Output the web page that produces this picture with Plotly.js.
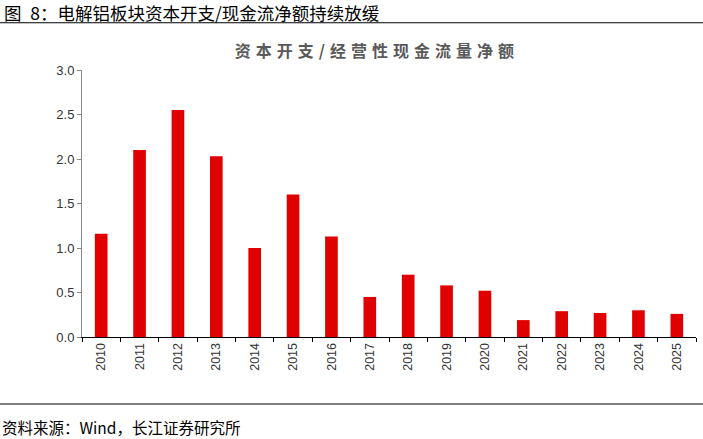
<!DOCTYPE html>
<html>
<head>
<meta charset="utf-8">
<script src="https://cdn.plot.ly/plotly-3.0.1.min.js"></script>
<style>
  body { margin: 0; background: #fff; }
  #plot { width: 703px; height: 439px; }
  .gtitle { letter-spacing: 5px; }
</style>
</head>
<body>
<div id="plot"></div>
<script>
// 资本开支/经营性现金流量净额
let years = ['2010', '2011', '2012', '2013', '2014', '2015', '2016', '2017',
             '2018', '2019', '2020', '2021', '2022', '2023', '2024', '2025'];
let ratio = [1.16, 2.10, 2.55, 2.03, 1.00, 1.60, 1.13, 0.45,
             0.70, 0.58, 0.52, 0.19, 0.29, 0.27, 0.30, 0.26];

let figTitle = '图\u20028：电解铝板块资本开支/现金流净额持续放缓';
let chartTitle = '资本开支/经营性现金流量净额';
let source = '资料来源：Wind，长江证券研究所';

let cjk = '"Noto Sans CJK SC", "Noto Sans", sans-serif';

Plotly.newPlot('plot', [{
    x: years,
    y: ratio,
    type: 'bar',
    marker: {color: '#e10000'},
    hoverinfo: 'x+y'
}], {
    width: 703,
    height: 439,
    margin: {l: 82, r: 7, t: 70, b: 102},
    paper_bgcolor: '#fff',
    plot_bgcolor: '#fff',
    bargap: 0.67,
    showlegend: false,
    title: {
        text: '<b>' + chartTitle + '</b>',
        font: {family: cjk, size: 16, color: '#595959'},
        x: 0.536, xanchor: 'center',
        y: 0.882, yanchor: 'middle'
    },
    xaxis: {
        type: 'category',
        tickangle: -90,
        tickson: 'boundaries',
        ticks: 'outside',
        ticklen: 4,
        tickcolor: '#000',
        showline: true,
        linecolor: '#000',
        linewidth: 1,
        showgrid: false,
        tickfont: {family: 'Arial, "Liberation Sans", sans-serif', size: 12.5, color: '#333'}
    },
    yaxis: {
        range: [0, 3],
        dtick: 0.5,
        tickformat: '.1f',
        ticks: 'outside',
        ticklen: 4,
        tickcolor: '#888',
        showline: true,
        linecolor: '#888',
        linewidth: 1,
        showgrid: false,
        zeroline: false,
        tickfont: {family: 'Arial, "Liberation Sans", sans-serif', size: 13, color: '#333'}
    },
    shapes: [
        {type: 'line', xref: 'paper', yref: 'paper', x0: -0.14, x1: 1.02, y0: 1.177, y1: 1.177,
         line: {color: '#000', width: 1.2}},
        {type: 'line', xref: 'paper', yref: 'paper', x0: -0.14, x1: 1.02, y0: -0.251, y1: -0.251,
         line: {color: '#000', width: 1.2}}
    ],
    annotations: [
        {text: figTitle, xref: 'paper', yref: 'paper', x: -0.131, y: 1.216,
         xanchor: 'left', yanchor: 'middle', showarrow: false,
         font: {family: cjk, size: 17.5, color: '#000'}},
        {text: source, xref: 'paper', yref: 'paper', x: -0.134, y: -0.337,
         xanchor: 'left', yanchor: 'middle', showarrow: false,
         font: {family: cjk, size: 15.5, color: '#000'}}
    ]
}, {displayModeBar: false, staticPlot: true});
</script>
</body>
</html>
